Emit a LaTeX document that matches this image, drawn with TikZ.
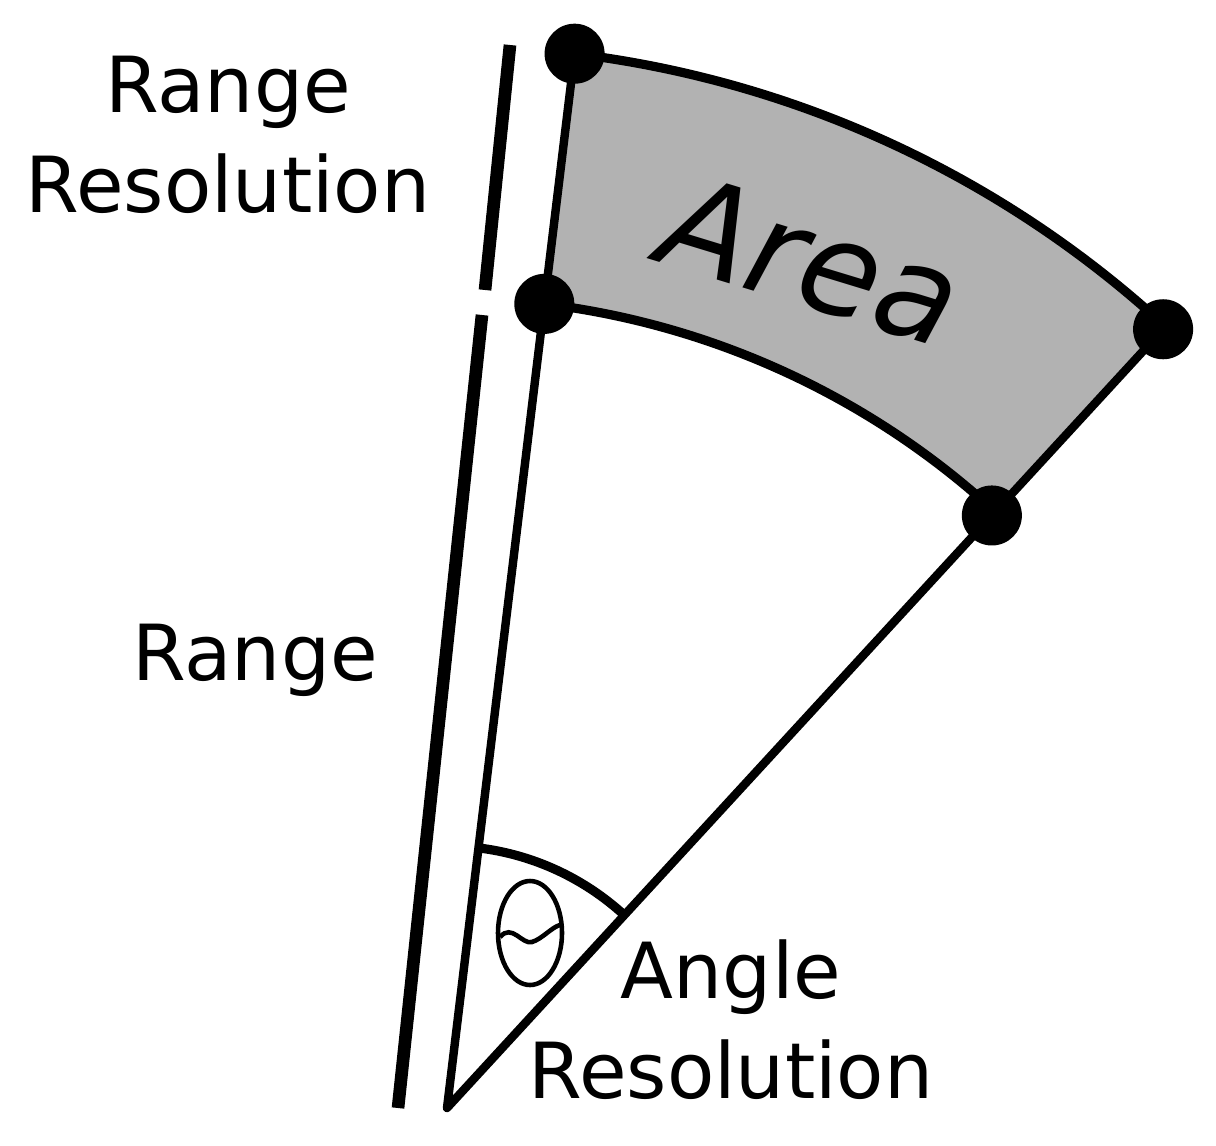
\documentclass[tikz,border=0pt]{standalone}
\usepackage{fontspec}
\setmainfont{DejaVu Sans}
\usetikzlibrary{calc}
\begin{document}
\begin{tikzpicture}[x=0.01cm,y=0.01cm,
  dot/.style={circle,fill=black,inner sep=0pt,minimum size=0.6cm},
  lbl/.style={font=\fontsize{22}{28.5}\selectfont,align=center}]
\useasboundingbox (0,0) rectangle (1216,1145);
\coordinate (O) at (447,37);
% filled area
\fill[black!30] (O) ++(83.1:810) arc[start angle=83.1,end angle=47.4,radius=810]
  -- ($(O)+(47.4:1060)$) arc[start angle=47.4,end angle=83.1,radius=1060] -- cycle;
\path (O) ++(83.1:810) coordinate (a1) (O) ++(83.1:1062) coordinate (a2)
      (O) ++(47.4:805) coordinate (b1) (O) ++(47.4:1058) coordinate (b2);
\draw[line width=2.4pt,line join=round] (a2) -- (O) -- (b2);
\draw[line width=2.6pt] (a1) arc[start angle=83.1,end angle=47.4,radius=810];
\draw[line width=2.6pt] (a2) arc[start angle=83.1,end angle=47.4,radius=1060];
\node[dot] (p1) at (a1) {};
\node[dot] (p2) at (a2) {};
\node[dot] (p3) at (b1) {};
\node[dot] (p4) at (b2) {};
% small angle arc
\draw[line width=2.6pt] (O) ++(83.1:262) arc[start angle=83.1,end angle=47.4,radius=262];
\draw[line width=1.3pt] (530,212) ellipse[x radius=32,y radius=52];
\draw[line width=1.3pt] (500,208) .. controls (512,222) and (522,200) .. (532,203) .. controls (542,206) and (552,218) .. (560,220);
% separate line
\draw[line width=3.6pt] (510,1100) -- (485,855);
\draw[line width=3.6pt] (482,830) -- (398,37);
% labels
\node[lbl] (t1) at (228,1010) {Range\\Resolution};
\node[lbl] (t2) at (255,485) {Range};
\node[lbl] (t3) at (731,125) {Angle\\Resolution};
\node[font=\itshape\fontsize{37}{44}\selectfont,rotate=-17] (t4) at (812,885) {Area};
\end{tikzpicture}
\end{document}
